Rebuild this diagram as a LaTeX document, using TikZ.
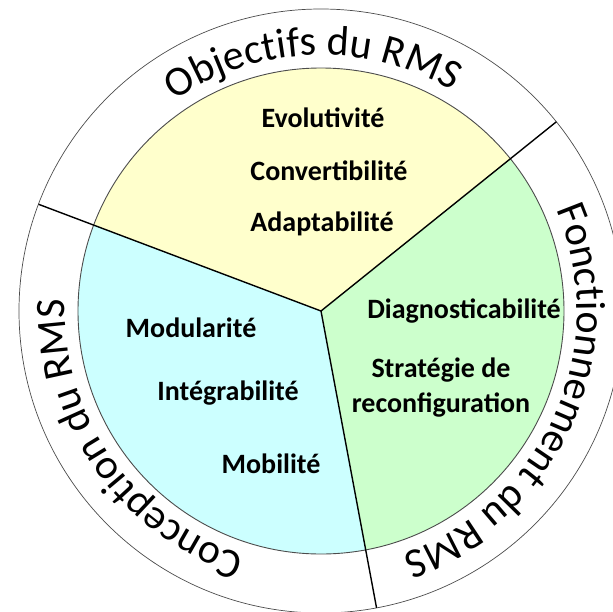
\documentclass[tikz,border=0pt]{standalone}
\usepackage{fontspec}
\setmainfont{Carlito}
\usetikzlibrary{calc,decorations.text}
\definecolor{pYellow}{HTML}{FFFFCC}
\definecolor{pCyan}{HTML}{CCFFFF}
\definecolor{pGreen}{HTML}{CCFFCC}
\definecolor{pGray}{gray}{0.3}
\tikzset{
    item/.style={font=\fontsize{28}{35}\selectfont\bfseries, align=center, inner sep=0pt, anchor=base},
    rim/.style={draw=pGray, line width=0.9pt},
    divider/.style={line width=1.4pt, black},
    ring text/.style={decorate, decoration={text along path, text align=center,
        text={|\fontsize{42}{50}\selectfont|#1}}}
}

\begin{document}
\begin{tikzpicture}[x=1pt,y=1pt]
\useasboundingbox (0,0) rectangle (613,-611);
\clip (0,0) rectangle (613,-611);
\coordinate (hub) at (321,-311);
\coordinate (dA) at ($(hub)+(38.8:302)$);
\coordinate (dB) at ($(hub)+(159.3:302)$);
\coordinate (dC) at ($(hub)+(280.6:302)$);
% outer ring
\draw[rim, line width=0.7pt] (hub) circle[radius=302];
% the three sectors
\fill[pYellow] (hub) -- ++(38.8:243) arc[start angle=38.8, end angle=159.3, radius=243] -- cycle;
\fill[pCyan] (hub) -- ++(159.3:243) arc[start angle=159.3, end angle=280.6, radius=243] -- cycle;
\fill[pGreen] (hub) -- ++(280.6:243) arc[start angle=280.6, end angle=398.8, radius=243] -- cycle;
\draw[rim] (hub) circle[radius=243];
\draw[divider] (hub) -- (dA);
\draw[divider] (hub) -- (dB);
\draw[divider] (hub) -- (dC);
% ring labels
\path[ring text={Objectifs du RMS}] (hub) ++(152:256) arc[start angle=152, end angle=32, radius=256];
\path[ring text={Fonctionnement du RMS}] (hub) ++(40:256) arc[start angle=40, end angle=-88, radius=256];
\path[ring text={Conception du RMS}] (hub) ++(275:256) arc[start angle=275, end angle=155, radius=256];
% objectifs
\node[item] (evol) at (323,-127) {Evolutivité};
\node[item] (conv) at (329,-180) {Convertibilité};
\node[item] (adap) at (322,-231) {Adaptabilité};
% fonctionnement
\node[item] (diag) at (464,-318) {Diagnosticabilité};
\node[item] (strat) at (441,-412) {Stratégie de\\reconfiguration};
% conception
\node[item] (modu) at (191,-337) {Modularité};
\node[item] (inte) at (228,-400) {Intégrabilité};
\node[item] (mobi) at (271,-473) {Mobilité};
\end{tikzpicture}
\end{document}
